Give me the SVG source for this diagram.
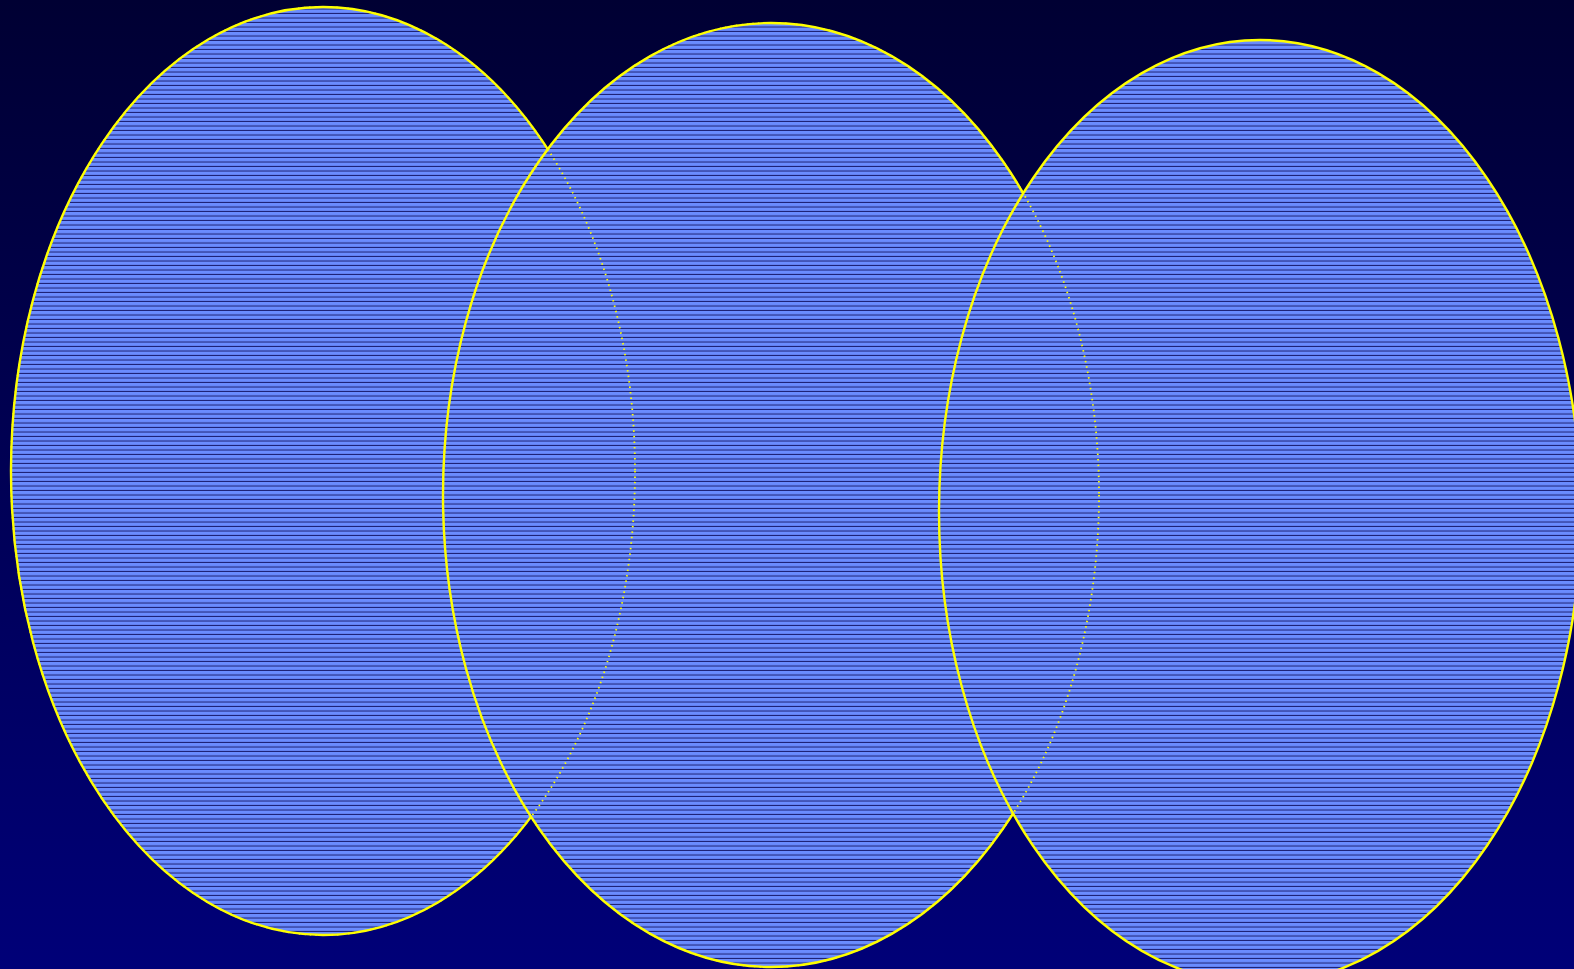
<svg xmlns="http://www.w3.org/2000/svg" width="1574" height="969" viewBox="0 0 1574 969">
<defs>
<linearGradient id="bg" x1="0" y1="0" x2="0" y2="1">
<stop offset="0" stop-color="#000033"/>
<stop offset="1" stop-color="#000078"/>
</linearGradient>
<pattern id="stripes" patternUnits="userSpaceOnUse" x="0" y="0.5" width="10" height="4.5">
<rect x="0" y="0" width="10" height="4.5" fill="#6a8cff"/>
<rect x="0" y="3.5" width="10" height="0.9" fill="#101060"/>
</pattern>
<style>
.set{fill:url(#stripes);stroke:#ffff00;stroke-width:2.4}
.hid{fill:none;stroke:#ffff00;stroke-width:1.8;stroke-dasharray:1.5 4}
</style>
</defs>
<rect width="1574" height="969" fill="url(#bg)"/>
<g id="set-left"><ellipse class="set" cx="323" cy="471" rx="312" ry="464"/></g>
<g id="set-middle"><ellipse class="set" cx="771" cy="495" rx="328" ry="472"/></g>
<g id="set-right"><ellipse class="set" cx="1260" cy="512" rx="321" ry="472"/></g>
<g id="hidden-edges">
<ellipse class="hid" cx="323" cy="471" rx="312" ry="464"/>
<ellipse class="hid" cx="771" cy="495" rx="328" ry="472"/>
</g>
</svg>
